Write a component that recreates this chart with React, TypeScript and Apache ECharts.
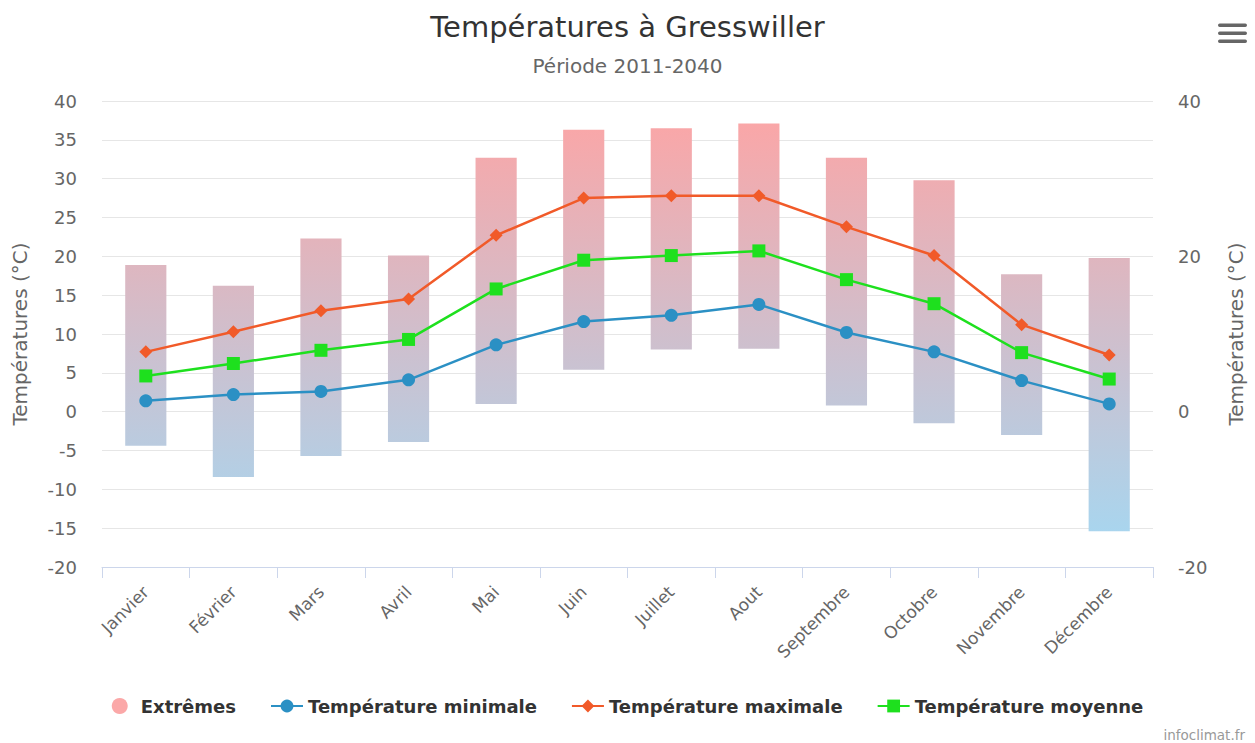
import React, { useEffect, useRef } from "react";
import * as echarts from "echarts";

const categories = ["Janvier", "Février", "Mars", "Avril", "Mai", "Juin", "Juillet", "Aout", "Septembre", "Octobre", "Novembre", "Décembre"];
const extremeLow = [-4.4, -8.4, -5.7, -3.9, 1.0, 5.4, 8.0, 8.1, 0.8, -1.5, -3.0, -15.4];
const extremeHigh = [18.9, 16.2, 22.3, 20.1, 32.7, 36.3, 36.5, 37.1, 32.7, 29.8, 17.7, 19.8];
const tMin = [1.4, 2.2, 2.6, 4.1, 8.6, 11.6, 12.4, 13.8, 10.2, 7.7, 4.0, 1.0];
const tMax = [7.7, 10.3, 13.0, 14.5, 22.7, 27.5, 27.8, 27.8, 23.8, 20.1, 11.2, 7.3];
const tMoy = [4.6, 6.2, 7.9, 9.3, 15.8, 19.5, 20.1, 20.7, 17.0, 13.9, 7.6, 4.2];

const FONT = "DejaVu Sans";

export default function App() {
  const ref = useRef<HTMLDivElement>(null);
  useEffect(() => {
    if (!ref.current) return;
    const chart = echarts.init(ref.current, null, { renderer: "svg" });
    const rangeData = categories.map((_, i) => [i, extremeLow[i], extremeHigh[i]]);
    chart.setOption({
      animation: false,
      textStyle: { fontFamily: FONT },
      title: {
        text: "Températures à Gresswiller",
        subtext: "Période 2011-2040",
        left: "center",
        top: 7,
        itemGap: 15,
        textStyle: { fontFamily: FONT, fontSize: 29, fontWeight: "normal", color: "#333" },
        subtextStyle: { fontFamily: FONT, fontSize: 20, color: "#666" },
      },
      legend: {
        bottom: 23,
        left: "center",
        itemGap: 34,
        itemWidth: 32,
        itemHeight: 16,
        textStyle: { fontFamily: FONT, fontSize: 18, fontWeight: "bold", color: "#333" },
        data: [
          { name: "Extrêmes", icon: "circle" },
          { name: "Température minimale" },
          { name: "Température maximale" },
          { name: "Température moyenne" },
        ],
      },
      grid: { left: 102, right: 102, top: 101, bottom: 176, containLabel: false },
      xAxis: {
        type: "category",
        data: categories,
        boundaryGap: true,
        axisLine: { onZero: false, lineStyle: { color: "#ccd6eb" } },
        axisTick: { show: true, length: 11, lineStyle: { color: "#ccd6eb" } },
        axisLabel: {
          rotate: 45,
          color: "#666",
          fontSize: 17,
          margin: 22,
          fontFamily: FONT,
          interval: 0,
        },
        splitLine: { show: false },
      },
      yAxis: [
        {
          type: "value",
          min: -20,
          max: 40,
          interval: 5,
          name: "Températures (°C)",
          nameLocation: "middle",
          nameGap: 72,
          nameTextStyle: { color: "#666", fontSize: 20, fontFamily: FONT },
          axisLabel: { color: "#666", fontSize: 18, margin: 25, fontFamily: FONT },
          axisLine: { show: false },
          axisTick: { show: false },
          splitLine: { lineStyle: { color: "#e6e6e6" } },
        },
        {
          type: "value",
          min: -20,
          max: 40,
          interval: 20,
          position: "right",
          name: "Températures (°C)",
          nameLocation: "middle",
          nameGap: 73,
          nameTextStyle: { color: "#666", fontSize: 20, fontFamily: FONT },
          axisLabel: { color: "#666", fontSize: 18, margin: 25, fontFamily: FONT },
          axisLine: { show: false },
          axisTick: { show: false },
          splitLine: { show: false },
        },
      ],
      series: [
        {
          name: "Extrêmes",
          type: "custom",
          itemStyle: { color: "#fba8a8" },
          encode: { x: 0, y: [1, 2] },
          data: rangeData,
          z: 1,
          renderItem: (params: any, api: any) => {
            const x = api.value(0);
            const lo = api.value(1);
            const hi = api.value(2);
            const pHi = api.coord([x, hi]);
            const pLo = api.coord([x, lo]);
            const bw = api.size([1, 0])[0] * 0.47;
            const top = api.coord([x, 40])[1];
            const bottom = api.coord([x, -20])[1];
            return {
              type: "rect",
              shape: { x: pHi[0] - bw / 2, y: pHi[1], width: bw, height: pLo[1] - pHi[1] },
              style: {
                fill: new echarts.graphic.LinearGradient(
                  0, top, 0, bottom,
                  [
                    { offset: 0, color: "#fea4a4" },
                    { offset: 1, color: "#a2d9f4" },
                  ],
                  true
                ),
              },
            };
          },
        },
        {
          name: "Température minimale",
          type: "line",
          data: tMin,
          symbol: "circle",
          symbolSize: 13,
          color: "#2b90c4",
          lineStyle: { width: 2.5, color: "#2b90c4" },
          itemStyle: { color: "#2b90c4" },
          z: 3,
        },
        {
          name: "Température maximale",
          type: "line",
          data: tMax,
          symbol: "diamond",
          symbolSize: 13,
          color: "#f15a29",
          lineStyle: { width: 2.5, color: "#f15a29" },
          itemStyle: { color: "#f15a29" },
          z: 3,
        },
        {
          name: "Température moyenne",
          type: "line",
          data: tMoy,
          symbol: "rect",
          symbolSize: 13,
          color: "#1ee01e",
          lineStyle: { width: 2.5, color: "#1ee01e" },
          itemStyle: { color: "#1ee01e" },
          z: 3,
        },
      ],
      graphic: [
        { type: "rect", shape: { x: 1218, y: 23.5, width: 29, height: 3.5, r: 1.7 }, style: { fill: "#666" } },
        { type: "rect", shape: { x: 1218, y: 31.5, width: 29, height: 3.5, r: 1.7 }, style: { fill: "#666" } },
        { type: "rect", shape: { x: 1218, y: 39.5, width: 29, height: 3.5, r: 1.7 }, style: { fill: "#666" } },
        {
          type: "text",
          right: 10,
          bottom: 1,
          style: { text: "infoclimat.fr", fill: "#999", fontSize: 13.5, fontFamily: FONT },
        },
      ],
    });
    return () => chart.dispose();
  }, []);
  return (
    <div
      ref={ref}
      style={{ position: "absolute", left: 0, top: 0, width: 1255, height: 743 }}
    />
  );
}
